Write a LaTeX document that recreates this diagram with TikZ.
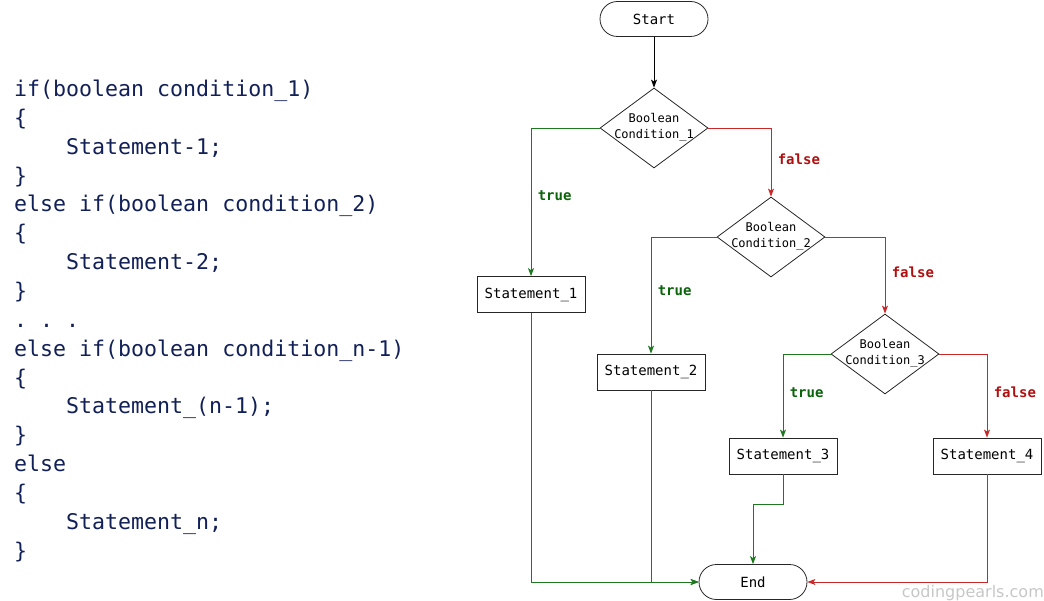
\documentclass[tikz,border=0pt]{standalone}
\usepackage{fontspec}
\usetikzlibrary{arrows.meta,shapes.geometric}
\newfontfamily\codefont{DejaVu Sans Mono}
\newfontfamily\markfont{DejaVu Sans}
\definecolor{codeblue}{RGB}{18,32,88}
\definecolor{truegreen}{RGB}{30,120,30}
\definecolor{falsered}{RGB}{200,40,40}
\definecolor{truelabel}{RGB}{10,100,10}
\definecolor{falselabel}{RGB}{175,15,15}
\newcommand{\ind}{\hspace*{2.4em}}
\newcommand{\condtext}[1]{\raisebox{-5pt}{\makebox[0pt]{\smash{\begin{tabular}{@{}c@{}}Boolean\\Condition\_#1\end{tabular}}}}}
\tikzset{
  codeline/.style={anchor=base west, inner sep=0, text=codeblue, font=\codefont\fontsize{21.6}{28.8}\selectfont},
  terminal/.style={draw=black!85, rectangle, rounded corners=17.5pt, line width=.8pt, minimum width=108pt, minimum height=35pt, font=\codefont\fontsize{14}{16}\selectfont},
  stmt/.style={draw=black!85, rectangle, line width=.8pt, minimum width=108pt, minimum height=36pt, inner sep=0, font=\codefont\fontsize{14}{16}\selectfont},
  decision/.style={draw=black!85, diamond, line width=.8pt, minimum width=108pt, minimum height=80pt, inner sep=0, font=\codefont\fontsize{12}{16}\selectfont},
  flow/.style={line width=.9pt, -{Stealth[length=8pt,width=6pt,inset=2pt]}},
  yes/.style={flow, draw=truegreen},
  no/.style={flow, draw=falsered},
  yeslabel/.style={pos=.73, right=3pt, text=truelabel, font=\codefont\bfseries\fontsize{14}{16}\selectfont},
  nolabel/.style={pos=.73, right=3pt, text=falselabel, font=\codefont\bfseries\fontsize{14}{16}\selectfont}
}
\begin{document}
\begin{tikzpicture}[x=1pt,y=-1pt]
    \useasboundingbox (0,0) rectangle (1044,601);
    \foreach \txt [count=\i] in {{if(boolean condition\_1)}, {\{}, {\ind Statement-1;}, {\}},
        {else if(boolean condition\_2)}, {\{}, {\ind Statement-2;}, {\}}, {.\ .\ .},
        {else if(boolean condition\_n-1)}, {\{}, {\ind Statement\_(n-1);}, {\}},
        {else}, {\{}, {\ind Statement\_n;}, {\}}}
      \node[codeline] (line\i) at (14,{96.5+28.85*(\i-1)}) {\txt};
    \node[terminal] (start) at (654,19) {Start};
    \node[decision] (d1) at (654,128) {\condtext{1}};
    \node[decision] (d2) at (771,237) {\condtext{2}};
    \node[decision] (d3) at (885,354) {\condtext{3}};
    \node[stmt] (s1) at (531,294.5) {Statement\_1};
    \node[stmt] (s2) at (651,372) {Statement\_2};
    \node[stmt] (s3) at (783,456) {Statement\_3};
    \node[stmt] (s4) at (987,456) {Statement\_4};
    \node[terminal] (end) at (753,582) {End};
    \node[anchor=base east, inner sep=0, text=black!22, font=\markfont\fontsize{16}{18}\selectfont] (mark) at (1044,597) {codingpearls.com};
    \draw[flow] (start) -- (d1);
    \draw[yes] (d1.west) -| (s1.north) node[yeslabel]{true};
    \draw[no] (d1.east) -| (d2.north) node[nolabel]{false};
    \draw[yes] (d2.west) -| (s2.north) node[yeslabel]{true};
    \draw[no] (d2.east) -| (d3.north) node[nolabel]{false};
    \draw[yes] (d3.west) -| (s3.north) node[yeslabel]{true};
    \draw[no] (d3.east) -| (s4.north) node[nolabel]{false};
    \draw[yes] (s1.south) |- (end.west);
    \draw[yes] (s2.south) |- (end.west);
    \draw[yes] (s3.south) -- ++(0,30) -| (end.north);
    \draw[no] (s4.south) |- (end.east);
  \end{tikzpicture}
\end{document}
